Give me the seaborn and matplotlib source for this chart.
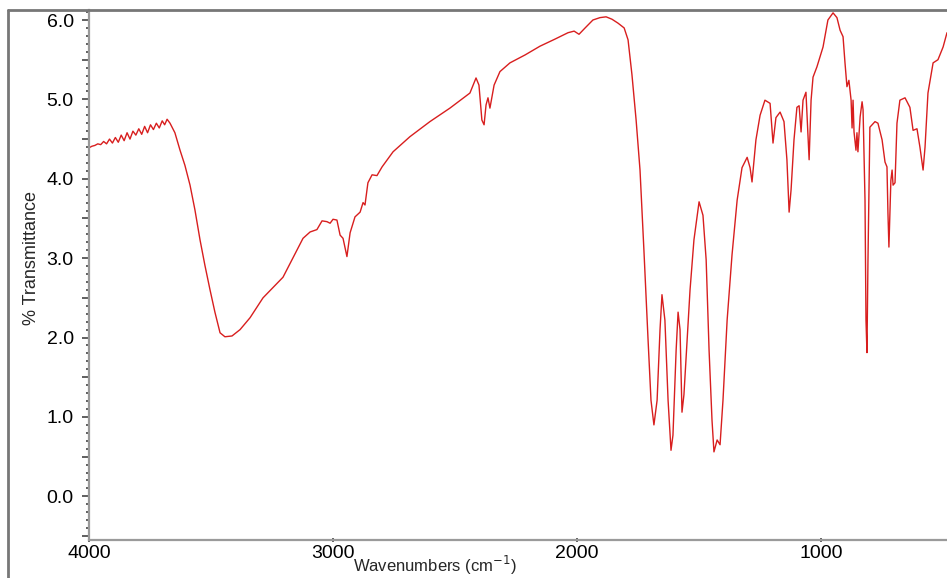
import matplotlib
matplotlib.use("Agg")
import matplotlib.pyplot as plt
import matplotlib.ticker as mticker
import seaborn as sns
import pandas as pd

# wavenumber (cm-1)
wavenumber = [
    4000, 3988, 3976, 3964, 3952, 3940, 3928, 3916, 3904, 3892, 3880, 3868,
    3856, 3844, 3832, 3820, 3808, 3796, 3784, 3772, 3760, 3748, 3736, 3724,
    3712, 3700, 3690, 3680, 3668, 3648, 3627, 3607, 3586, 3566, 3545, 3525,
    3504, 3484, 3463, 3443, 3414, 3381, 3340, 3287, 3205, 3123, 3094, 3066,
    3045, 3025, 3012, 3000, 2984, 2971, 2959, 2943, 2930, 2910, 2889, 2877,
    2869, 2857, 2840, 2820, 2799, 2754, 2685, 2603, 2521, 2439, 2414, 2402,
    2390, 2381, 2373, 2365, 2357, 2340, 2316, 2275, 2213, 2152, 2090, 2037,
    2012, 1992, 1967, 1935, 1906, 1881, 1857, 1832, 1807, 1791, 1775, 1758,
    1742, 1726, 1709, 1697, 1685, 1672, 1660, 1652, 1640, 1627, 1615, 1607,
    1594, 1586, 1578, 1570, 1562, 1549, 1537, 1521, 1500, 1484, 1471, 1459,
    1447, 1439, 1426, 1414, 1402, 1385, 1365, 1344, 1324, 1303, 1291, 1283,
    1267, 1250, 1230, 1209, 1197, 1185, 1168, 1152, 1140, 1131, 1123, 1111,
    1099, 1090, 1082, 1074, 1062, 1053, 1049, 1041, 1033, 1017, 992, 972,
    951, 935, 922, 910, 902, 894, 886, 877, 873, 869, 865, 857,
    853, 849, 840, 832, 828, 820, 816, 812, 808, 800, 779, 767,
    750, 738, 730, 726, 722, 714, 709, 705, 697, 689, 677, 656,
    636, 623, 607, 595, 582, 574, 562, 541, 521, 500, 484,
]

# % transmittance
transmittance = [
    4.39, 4.41, 4.42, 4.44, 4.43, 4.47, 4.44, 4.50, 4.45, 4.52, 4.46, 4.55,
    4.48, 4.58, 4.50, 4.60, 4.55, 4.63, 4.56, 4.66, 4.58, 4.68, 4.62, 4.70,
    4.64, 4.73, 4.68, 4.75, 4.70, 4.58, 4.36, 4.17, 3.92, 3.61, 3.23, 2.91,
    2.60, 2.32, 2.06, 2.01, 2.02, 2.10, 2.25, 2.50, 2.76, 3.25, 3.33, 3.36,
    3.47, 3.46, 3.44, 3.49, 3.48, 3.29, 3.25, 3.02, 3.32, 3.52, 3.58, 3.70,
    3.67, 3.95, 4.05, 4.04, 4.15, 4.34, 4.53, 4.72, 4.89, 5.08, 5.27, 5.18,
    4.74, 4.68, 4.93, 5.02, 4.89, 5.18, 5.35, 5.46, 5.56, 5.67, 5.76, 5.84,
    5.86, 5.82, 5.90, 6.00, 6.03, 6.04, 6.01, 5.96, 5.90, 5.75, 5.31, 4.74,
    4.11, 3.10, 1.97, 1.21, 0.90, 1.21, 2.10, 2.54, 2.22, 1.21, 0.58, 0.77,
    1.84, 2.32, 2.10, 1.06, 1.28, 1.97, 2.60, 3.23, 3.71, 3.54, 2.98, 1.84,
    0.96, 0.56, 0.71, 0.65, 1.21, 2.22, 3.04, 3.73, 4.14, 4.27, 4.14, 3.96,
    4.49, 4.80, 4.99, 4.95, 4.45, 4.77, 4.84, 4.72, 4.24, 3.58, 3.86, 4.49,
    4.90, 4.92, 4.59, 4.99, 5.09, 4.49, 4.24, 4.99, 5.28, 5.41, 5.66, 6.00,
    6.09, 6.03, 5.87, 5.79, 5.46, 5.16, 5.24, 4.99, 4.64, 4.99, 4.59, 4.36,
    4.58, 4.34, 4.78, 4.97, 4.87, 3.73, 2.22, 1.81, 2.94, 4.65, 4.72, 4.70,
    4.49, 4.21, 4.15, 3.57, 3.14, 3.98, 4.11, 3.92, 3.95, 4.70, 4.99, 5.02,
    4.90, 4.61, 4.63, 4.40, 4.11, 4.40, 5.08, 5.46, 5.50, 5.66, 5.84,
]

y_tick_labels = ["0.0", "1.0", "2.0", "3.0", "4.0", "5.0", "6.0"]
x_tick_labels = ["4000", "3000", "2000", "1000"]

df = pd.DataFrame({"wn": wavenumber, "T": transmittance})

sns.set_style("ticks")
plt.rcParams["font.family"] = ["Liberation Sans", "DejaVu Sans"]

fig = plt.figure(figsize=(9.47, 5.78), dpi=100)
ax = fig.add_axes([89 / 947, 38 / 578, 858 / 947, 530 / 578])

sns.lineplot(
    data=df,
    x="wn",
    y="T",
    sort=False,
    estimator=None,
    color="#d81e1e",
    linewidth=1.0,
    ax=ax,
)

ax.set_xlim(4000, 484)
ax.set_ylim(-0.55, 6.126)

ax.xaxis.set_major_locator(mticker.FixedLocator([4000, 3000, 2000, 1000]))
ax.set_xticklabels(x_tick_labels)
ax.xaxis.set_minor_locator(mticker.MultipleLocator(200))

ax.yaxis.set_major_locator(mticker.MultipleLocator(0.5))
ax.yaxis.set_major_formatter(
    mticker.FuncFormatter(lambda v, p: f"{v:.1f}" if abs(v - round(v)) < 1e-6 else "")
)
ax.yaxis.set_minor_locator(mticker.MultipleLocator(0.1))

ax.tick_params(axis="both", which="major", labelsize=14, colors="#444444",
               labelcolor="black", width=1.2)
ax.tick_params(axis="y", which="major", length=5, pad=6)
ax.tick_params(axis="y", which="minor", length=2, width=1.2, colors="#444444")
ax.tick_params(axis="x", which="major", length=3, direction="inout", pad=2)
ax.tick_params(axis="x", which="minor", length=2, width=1.2,
               direction="inout", colors="#444444")

sns.despine(ax=ax)
for side in ["left", "bottom"]:
    ax.spines[side].set_color("#9a9a9a")
    ax.spines[side].set_linewidth(1.6)

ax.set_xlabel("Wavenumbers (cm$^{-1}$)", fontsize=12)
ax.set_ylabel("% Transmittance", fontsize=13)
ax.xaxis.set_label_coords(0.403, -0.026)
ax.xaxis.label.set_va("top")
ax.yaxis.set_label_coords(-0.057, 0.532)

# outer frame
fig.add_artist(plt.Line2D([8 / 947, 8 / 947], [0.0, 1 - 10 / 578],
                          transform=fig.transFigure, color="#777777", linewidth=2))
fig.add_artist(plt.Line2D([8 / 947, 1.0], [1 - 10 / 578, 1 - 10 / 578],
                          transform=fig.transFigure, color="#777777", linewidth=2))

fig.savefig("out.png", dpi=100)
plt.close(fig)
